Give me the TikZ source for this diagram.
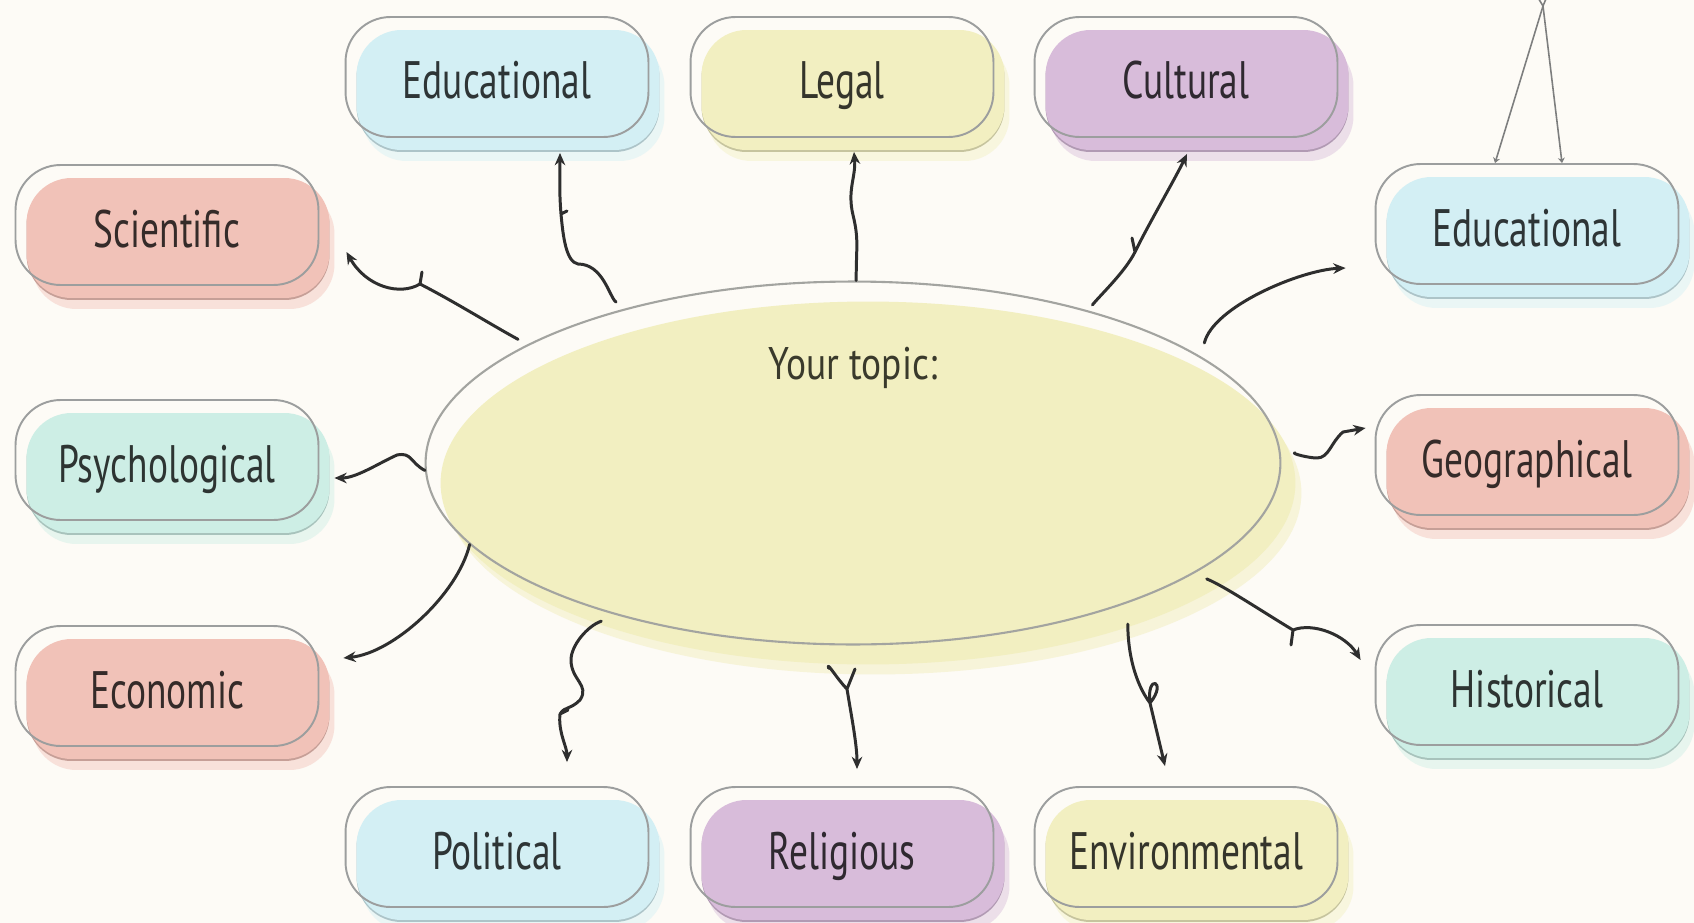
\documentclass[tikz,border=0pt]{standalone}
\usepackage{fontspec}
\usepackage{tikz}
\usepackage{xcolor}
\usetikzlibrary{shapes.geometric,arrows.meta,calc}

\newfontfamily\handfont[FakeStretch=0.71]{PT Sans}
\newfontfamily\topicfont[FakeStretch=0.82]{PT Sans}

\definecolor{paper}{HTML}{FDFBF6}
\definecolor{boxline}{HTML}{9C9E9E}
\definecolor{ovalline}{HTML}{A3A4A0}
\definecolor{ink}{HTML}{2E2E2E}
\definecolor{inkdark}{HTML}{3A3A2C}
\definecolor{sky}{HTML}{D3EFF4}
\definecolor{cream}{HTML}{F2EFC1}
\definecolor{lilac}{HTML}{D8BCDA}
\definecolor{salmon}{HTML}{F1C2B8}
\definecolor{mint}{HTML}{CDEEE5}

\begin{document}
\begin{tikzpicture}[x=0.02cm,y=-0.02cm]
	%\draw[help lines] (0,0) grid (1694,923);
	\tikzset{
	catbox/.style = {rounded corners=0.9cm, minimum width=6.06cm, minimum height=2.4cm,
		draw=boxline, line width=1.1pt, text=#1!22!black,
		font=\handfont\fontsize{30}{30}\selectfont, text height=1cm, text depth=0.12cm,
		preaction={fill=#1!45!paper, transform canvas={shift={(0.32cm,-0.48cm)}}},
		preaction={fill=#1!82!black, transform canvas={shift={(0.22cm,-0.3cm)}}},
		preaction={fill=#1, transform canvas={shift={(0.22cm,-0.26cm)}}}},
	topicoval/.style = {ellipse, minimum width=17.1cm, minimum height=7.26cm, inner sep=0pt,
		draw=ovalline, line width=1.2pt,
		preaction={fill=cream!55!paper, transform canvas={shift={(0.42cm,-0.6cm)}}},
		preaction={fill=cream, transform canvas={shift={(0.3cm,-0.4cm)}}}},
	wiggle/.style = {draw=ink, line width=1.7pt, line cap=round, line join=round,
		-{Stealth[length=7pt,width=6pt]}},
	hang/.style = {draw=boxline!80!black, line width=0.9pt, -{Stealth[length=3pt,width=4pt]}}
	}
	
	\useasboundingbox (0,0) rectangle (1694,923);
	\fill[paper] (0,0) rectangle (1694,923);
	
	\node[topicoval] (topic) at (853,463) {};
	\node[font=\topicfont\fontsize{26}{26}\selectfont, text=inkdark] (topiclbl) at (853,368) {Your topic:};
	
	\node[catbox=sky] (edutop) at (497,77) {Educational};
	\node[catbox=cream] (legal) at (842,77) {Legal};
	\node[catbox=lilac] (cult) at (1186,77) {Cultural};
	\node[catbox=salmon] (sci) at (167,225) {Scientific};
	\node[catbox=mint] (psy) at (167,460) {Psychological};
	\node[catbox=salmon] (eco) at (167,686) {Economic};
	\node[catbox=sky] (eduright) at (1527,224) {Educational};
	\node[catbox=salmon] (geo) at (1527,455) {Geographical};
	\node[catbox=mint] (hist) at (1527,685) {Historical};
	\node[catbox=sky] (pol) at (497,847) {Political};
	\node[catbox=lilac] (rel) at (842,847) {Religious};
	\node[catbox=cream] (env) at (1186,847) {Environmental};
	
	\coordinate (hang) at (1543,6);
	\draw[hang] (hang) -- ($(eduright.north)+(-32,0)$);
	\draw[hang] (hang) -- ($(eduright.north)+(35,0)$);
	\draw[hang, -] (hang) -- +(5,-12) (hang) -- +(-6,-10);
	
	\draw[wiggle, shorten <=6pt] (topic.160) .. controls +(-40,-22) and +(35,18) .. (420,284) -- +(2,-12) -- +(0,0)
		.. controls +(-20,12) and +(20,35) .. ($(sci.east)+(27,27)$);
	\draw[wiggle, shorten <=6pt] (topic.146) .. controls +(-15,-12) and +(25,0) .. (578,264)
		.. controls +(-12,-2) and +(2,22) .. (561,214) -- +(6,-3) -- +(0,0)
		.. controls +(-2,-25) and +(0,22) .. ($(edutop.south)+(63,15)$);
	\draw[wiggle] (topic.89) .. controls +(0,-35) and +(6,25) .. (853,215)
		.. controls +(-6,-25) and +(2,25) .. ($(legal.south)+(12,14)$);
	\draw[wiggle, shorten <=4pt] (topic.33) .. controls +(12,-15) and +(-10,20) .. (1135,252) -- +(-3,-14) -- +(0,0)
		.. controls +(12,-25) and +(-12,25) .. ($(cult.south)+(1,16)$);
	\draw[wiggle, shorten <=8pt] (topic.17) .. controls +(12,-50) and +(-45,2) .. ($(eduright.west)+(-29,44)$);
	\draw[wiggle, shorten <=8pt] (topic.1) .. controls +(10,-2) and +(-8,0) .. (1317,458)
		.. controls +(12,0) and +(-12,10) .. (1343,432) -- ($(geo.west)+(-9,-27)$);
	\draw[wiggle, shorten <=8pt] (topic.-18) .. controls +(30,12) and +(-30,-18) .. (1293,630) -- +(-2,15) -- +(0,0)
		.. controls +(20,-8) and +(-15,-25) .. ($(hist.west)+(-14,-25)$);
	\draw[wiggle, shorten <=12pt] (topic.-27) .. controls +(0,50) and +(-15,-20) .. (1150,703)
		.. controls +(18,-22) and +(-4,-30) .. (1150,703) -- ($(env.north)+(-21,-20)$);
	\draw[wiggle, shorten <=14pt] (topic.-100) .. controls +(5,15) and +(-10,-10) .. (847,689) -- +(8,-20) -- +(0,0)
		.. controls +(4,25) and +(0,-25) .. ($(rel.north)+(15,-17)$);
	\draw[wiggle, shorten <=10pt] (topic.-147) .. controls +(-30,10) and +(0,-15) .. (571,660)
		.. controls +(0,20) and +(10,-15) .. (580,700) .. controls +(-10,10) and +(5,-8) .. (560,714) -- +(8,-4) -- +(0,0)
		.. controls +(-2,18) and +(0,-15) .. ($(pol.north)+(70,-24)$);
	\draw[wiggle] (topic.192) .. controls +(-12,50) and +(50,-5) .. ($(eco.east)+(24,-28)$);
	\draw[wiggle] (topic.181) .. controls +(-15,-8) and +(15,-3) .. (397,455)
		.. controls +(-18,8) and +(22,0) .. ($(psy.east)+(15,18)$);
\end{tikzpicture}
\end{document}
